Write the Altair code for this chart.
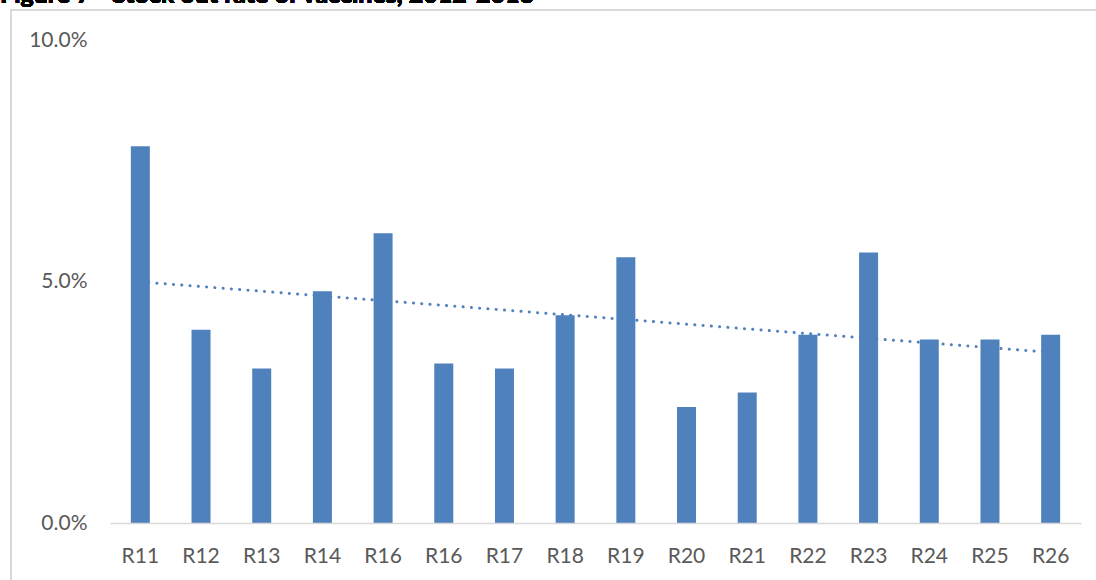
import altair as alt
import pandas as pd

# Stock-out rate by region (fraction of facilities)
regions = ["R11", "R12", "R13", "R14", "R16", "R16", "R17", "R18",
           "R19", "R20", "R21", "R22", "R23", "R24", "R25", "R26"]
rates = [0.078, 0.040, 0.032, 0.048, 0.060, 0.033, 0.032, 0.043,
         0.055, 0.024, 0.027, 0.039, 0.056, 0.038, 0.038, 0.039]
y_ticks = [0.0, 0.05, 0.10]
title_text = "Figure 7 - Stock out rate of vaccines, 2012-2013"

FONT = "Lato"
BLUE = "#4F81BD"
GREY_TEXT = "#595959"
GREY_LINE = "#D9D9D9"

# region names repeat (two R16 entries), so bars are keyed by position
df = pd.DataFrame({"idx": list(range(len(regions))), "region": regions, "rate": rates})

W, H = 971, 483
label_js = "[" + ",".join(f"'{r}'" for r in regions) + "]"

y_scale = alt.Scale(domain=[0, 0.10], nice=False)


def y_axis():
    return alt.Axis(
        title=None, values=y_ticks, format=".1%",
        labelFont=FONT, labelFontSize=21, labelColor=GREY_TEXT,
        labelPadding=23, ticks=False, tickSize=0, domain=False, grid=False,
        zindex=1,
    )


base = alt.Chart(df)

# frame around the figure area (outline only)
frame = base.mark_rect(filled=False, stroke=GREY_LINE, strokeWidth=1.5).encode(
    x=alt.value(-99), x2=alt.value(W + 200),
    y=alt.value(-30), y2=alt.value(H + 200),
)

# heading sitting above the frame
heading = base.mark_text(
    text=title_text, font=FONT, fontSize=25, fontWeight="bold",
    align="left", baseline="alphabetic", color="#000000",
).encode(x=alt.value(-110), y=alt.value(-37))

# linear trend across the regions (drawn beneath the bars)
trend = base.transform_regression("idx", "rate", method="linear").mark_line(
    color=BLUE, strokeWidth=3, strokeDash=[0.1, 8.2], strokeCap="round",
).encode(
    x=alt.X("idx:Q", scale=alt.Scale(domain=[-0.5, len(regions) - 0.5], nice=False, zero=False), axis=None),
    y=alt.Y("rate:Q", scale=y_scale, axis=y_axis()),
)

bars = base.mark_bar(color=BLUE).encode(
    x=alt.X(
        "idx:O",
        scale=alt.Scale(paddingInner=0.687, paddingOuter=0.3435),
        axis=alt.Axis(
            title=None, labelExpr=f"{label_js}[datum.value]", labelAngle=0,
            labelFont=FONT, labelFontSize=21, labelColor=GREY_TEXT,
            labelPadding=22, ticks=False, tickSize=0,
            domainColor=GREY_LINE, domainWidth=1.5, zindex=1,
        ),
    ),
    y=alt.Y("rate:Q", scale=y_scale, axis=y_axis()),
)

chart = alt.layer(frame, heading, trend, bars).resolve_scale(x="independent").properties(
    width=W, height=H,
    autosize=alt.AutoSizeParams(type="none"),
    padding={"left": 110, "top": 40, "right": 15, "bottom": 57},
    background="white",
).configure_view(stroke=None)

chart.save("out.html", embed_options={"renderer": "svg", "actions": False})
